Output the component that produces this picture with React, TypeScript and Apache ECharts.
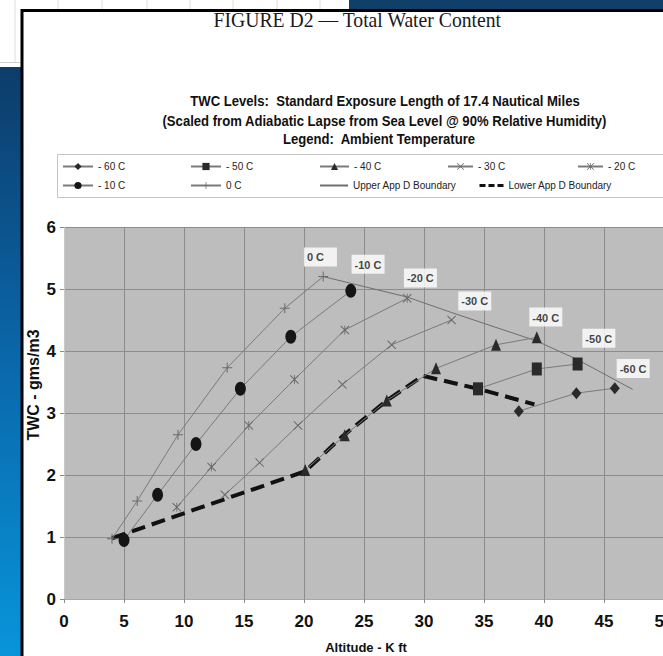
import React, { useEffect, useRef } from 'react';
import * as echarts from 'echarts';

// ---- data (Altitude K ft, TWC g/m3) ----
const seriesNames = ['- 60 C', '- 50 C', '- 40 C', '- 30 C', '- 20 C', '- 10 C', '0 C', 'Upper App D Boundary', 'Lower App D Boundary'];
const s60 = [[37.9, 3.03], [42.7, 3.32], [45.9, 3.4]];
const s50 = [[34.5, 3.39], [39.4, 3.71], [42.8, 3.79]];
const s40 = [[20.1, 2.08], [23.4, 2.64], [26.9, 3.2], [31.0, 3.72], [36.0, 4.1], [39.4, 4.22]];
const s30 = [[13.4, 1.68], [16.3, 2.2], [19.5, 2.8], [23.2, 3.46], [27.3, 4.1], [32.3, 4.5]];
const s20 = [[9.4, 1.48], [12.3, 2.13], [15.4, 2.8], [19.2, 3.54], [23.4, 4.34], [28.6, 4.85]];
const s10 = [[5.0, 0.95], [7.8, 1.68], [11.0, 2.5], [14.7, 3.39], [18.9, 4.23], [23.9, 4.97]];
const s0 = [[4.0, 0.97], [6.1, 1.58], [9.5, 2.65], [13.6, 3.73], [18.4, 4.69], [21.6, 5.2]];
const upperBoundary = [[21.6, 5.2], [28.6, 4.87], [32.3, 4.62], [39.4, 4.16], [42.8, 3.86], [47.4, 3.38]];
const lowerBoundary = [[4.0, 0.98], [20.1, 2.06], [23.3, 2.64], [26.9, 3.2], [29.9, 3.6], [34.5, 3.39], [39.2, 3.14]];

const peakLabels = ['0 C', '-10 C', '-20 C', '-30 C', '-40 C', '-50 C', '-60 C'];
const peakLabelX = [20.0, 23.97, 28.33, 32.86, 38.78, 43.2, 46.06];
const peakLabelY = [5.67, 5.55, 5.33, 4.96, 4.7, 4.36, 3.87];

const xMin = 0, xMax = 50, xStep = 5;
const yMin = 0, yMax = 6, yStep = 1;

const FONT = '"Liberation Sans", Arial, sans-serif';

const ELLIPSE = 'path://M5,0A5,5 0 1,1 5,10A5,5 0 1,1 5,0Z';
const XMARK = 'path://M0,0.8L0.8,0L5,4.2L9.2,0L10,0.8L5.8,5L10,9.2L9.2,10L5,5.8L0.8,10L0,9.2L4.2,5Z';
const STAR = 'path://M0,0.8L0.8,0L5,4.2L9.2,0L10,0.8L5.8,5L10,9.2L9.2,10L5,5.8L0.8,10L0,9.2L4.2,5ZM4.55,0H5.45V10H4.55Z';
const PLUS = 'path://M4.5,0H5.5V4.5H10V5.5H5.5V10H4.5V5.5H0V4.5H4.5Z';

const LINE_GRAY = '#7a7a7a';

function lineSeries(name: string, data: number[][], symbol: string, size: number[], color: string, extra: any = {}) {
  return {
    name,
    type: 'line',
    data,
    symbol,
    symbolSize: size,
    symbolKeepAspect: false,
    showSymbol: symbol !== 'none',
    lineStyle: { color: LINE_GRAY, width: 1 },
    itemStyle: { color },
    emphasis: { disabled: true },
    z: 3,
    ...extra,
  };
}

function legendItem(name: string, left: number, top: number, itemWidth: number, dataExtra: any = {}) {
  return {
    data: [{ name, ...dataExtra }],
    left,
    top,
    padding: 0,
    itemWidth,
    itemHeight: 9,
    selectedMode: false,
    textStyle: { fontSize: 10, fontFamily: FONT, color: '#222' },
  };
}

export default function App() {
  const ref = useRef<HTMLDivElement>(null);
  useEffect(() => {
    if (!ref.current) return;
    const chart = echarts.init(ref.current, undefined, { renderer: 'svg' });
    const gridLinesTop = [15, 58, 102, 147, 190, 233, 277, 320].map((x) => ({
      type: 'line', z: -19, shape: { x1: x, y1: 0, x2: x, y2: 62 }, style: { stroke: '#dedede', lineWidth: 1 },
    }));
    const option: any = {
      animation: false,
      backgroundColor: 'transparent',
      grid: {
        left: 64, top: 227, width: 600, height: 372, show: true, backgroundColor: '#bdbdbd', borderWidth: 0,
        containLabel: false, outerBoundsMode: 'none',
      },
      xAxis: {
        type: 'value', min: xMin, max: xMax, interval: xStep,
        axisLine: { show: true, lineStyle: { color: '#a8a8a8', width: 1 } },
        axisTick: { show: true, length: 4, lineStyle: { color: '#8a8a8a' } },
        splitLine: { show: true, lineStyle: { color: '#8c8c8c', width: 1 } },
        axisLabel: { fontSize: 17, fontWeight: 'bold', fontFamily: FONT, color: '#111', margin: 14, hideOverlap: false },
      },
      yAxis: {
        type: 'value', min: yMin, max: yMax, interval: yStep,
        axisLine: { show: true, lineStyle: { color: '#c8c8c8', width: 1 } },
        axisTick: { show: true, length: 4, lineStyle: { color: '#8a8a8a' } },
        splitLine: { show: true, lineStyle: { color: '#8c8c8c', width: 1 } },
        axisLabel: { fontSize: 17, fontWeight: 'bold', fontFamily: FONT, color: '#111', margin: 8 },
      },
      legend: [
        legendItem(seriesNames[0], 62, 161.5, 30),
        legendItem(seriesNames[1], 190, 161.5, 30),
        legendItem(seriesNames[2], 319, 161.5, 29),
        legendItem(seriesNames[3], 447, 161.5, 25),
        legendItem(seriesNames[4], 577, 161.5, 25),
        legendItem(seriesNames[5], 62, 180.5, 30),
        legendItem(seriesNames[6], 190, 180.5, 30),
        legendItem(seriesNames[7], 319, 180.5, 28, { itemStyle: { color: 'rgba(0,0,0,0)', borderWidth: 0 } }),
        legendItem(seriesNames[8], 478, 180.5, 24, { itemStyle: { color: 'rgba(0,0,0,0)', borderWidth: 0 }, lineStyle: { type: [6, 3], width: 3, color: '#111' } }),
      ],
      series: [
        lineSeries(seriesNames[7], upperBoundary, 'none', [1, 1], LINE_GRAY, { lineStyle: { color: '#6e6e6e', width: 1 } }),
        lineSeries(seriesNames[8], lowerBoundary, 'none', [1, 1], '#111', { lineStyle: { color: '#111', width: 4, type: [14, 7] }, z: 2 }),
        lineSeries(seriesNames[0], s60, 'diamond', [10, 12], '#2a2a2a'),
        lineSeries(seriesNames[1], s50, 'rect', [10, 13], '#2a2a2a'),
        lineSeries(seriesNames[2], s40, 'triangle', [10, 12], '#2a2a2a'),
        lineSeries(seriesNames[3], s30, XMARK, [9, 9], '#6a6a6a'),
        lineSeries(seriesNames[4], s20, STAR, [9, 9], '#6a6a6a'),
        lineSeries(seriesNames[5], s10, ELLIPSE, [11, 14], '#151515'),
        lineSeries(seriesNames[6], s0, PLUS, [10, 10], '#6a6a6a'),
        {
          name: 'peak labels',
          type: 'scatter',
          data: peakLabels.map((t, i) => [peakLabelX[i], peakLabelY[i], t]),
          symbolSize: 0.1,
          itemStyle: { color: 'rgba(0,0,0,0)' },
          silent: true,
          z: 10,
          label: {
            show: true,
            position: [0, 0],
            align: 'left',
            verticalAlign: 'top',
            formatter: (p: any) => p.data[2],
            fontSize: 11,
            fontWeight: 'bold',
            fontFamily: FONT,
            color: '#111',
            backgroundColor: '#ffffff',
            width: 28,
            height: 14,
            lineHeight: 14,
            padding: [3, 2, 2, 3],
          },
        },
      ],
      graphic: [
        { type: 'rect', z: -20, shape: { x: 0, y: 0, width: 349, height: 67 }, style: { fill: '#ffffff' } },
        ...gridLinesTop,
        { type: 'line', z: -19, shape: { x1: 0, y1: 62.5, x2: 349, y2: 62.5 }, style: { stroke: '#cfcfcf', lineWidth: 1 } },
        { type: 'rect', z: -20, shape: { x: 349, y: 0, width: 330, height: 10 }, style: { fill: '#10406a' } },
        {
          type: 'rect', z: -20, shape: { x: 0, y: 67, width: 22, height: 600 },
          style: {
            fill: new echarts.graphic.LinearGradient(0, 0, 0, 1, [
              { offset: 0, color: '#0d3c6a' },
              { offset: 0.45, color: '#0a64a6' },
              { offset: 1, color: '#0896dc' },
            ]),
          },
        },
        { type: 'rect', z: -18, shape: { x: 22, y: 10.5, width: 700, height: 700 }, style: { fill: '#ffffff', stroke: '#000000', lineWidth: 3 } },
        { type: 'rect', z: -17, shape: { x: 57.5, y: 154.5, width: 640, height: 43 }, style: { fill: 'none', stroke: '#c4c4c4', lineWidth: 1 } },
        {
          type: 'text', x: 357.3, y: 19.5, scaleX: 0.895, z: 5,
          style: { text: 'FIGURE D2 \u2014 Total Water Content', font: '22px "Liberation Serif", "Times New Roman", serif', fill: '#1a1a1a', align: 'center', verticalAlign: 'middle' },
        },
        {
          type: 'text', x: 385, y: 101.5, scaleX: 0.937, z: 5,
          style: { text: 'TWC Levels:  Standard Exposure Length of 17.4 Nautical Miles', font: 'bold 14px ' + FONT, fill: '#111', align: 'center', verticalAlign: 'middle' },
        },
        {
          type: 'text', x: 384.5, y: 121.5, scaleX: 0.937, z: 5,
          style: { text: '(Scaled from Adiabatic Lapse from Sea Level @ 90% Relative Humidity)', font: 'bold 14px ' + FONT, fill: '#111', align: 'center', verticalAlign: 'middle' },
        },
        {
          type: 'text', x: 379, y: 139.5, scaleX: 0.937, z: 5,
          style: { text: 'Legend:  Ambient Temperature', font: 'bold 14px ' + FONT, fill: '#111', align: 'center', verticalAlign: 'middle' },
        },
        {
          type: 'text', x: 33, y: 385, rotation: Math.PI / 2, z: 5,
          style: { text: 'TWC - gms/m3', font: 'bold 16px ' + FONT, fill: '#111', align: 'center', verticalAlign: 'middle' },
        },
        {
          type: 'text', x: 366, y: 647.5, z: 5,
          style: { text: 'Altitude - K ft', font: 'bold 13px ' + FONT, fill: '#111', align: 'center', verticalAlign: 'middle' },
        },
      ],
    };
    chart.setOption(option);
    return () => chart.dispose();
  }, []);
  return <div ref={ref} style={{ position: 'absolute', left: 0, top: 0, width: 663, height: 656 }} />;
}
